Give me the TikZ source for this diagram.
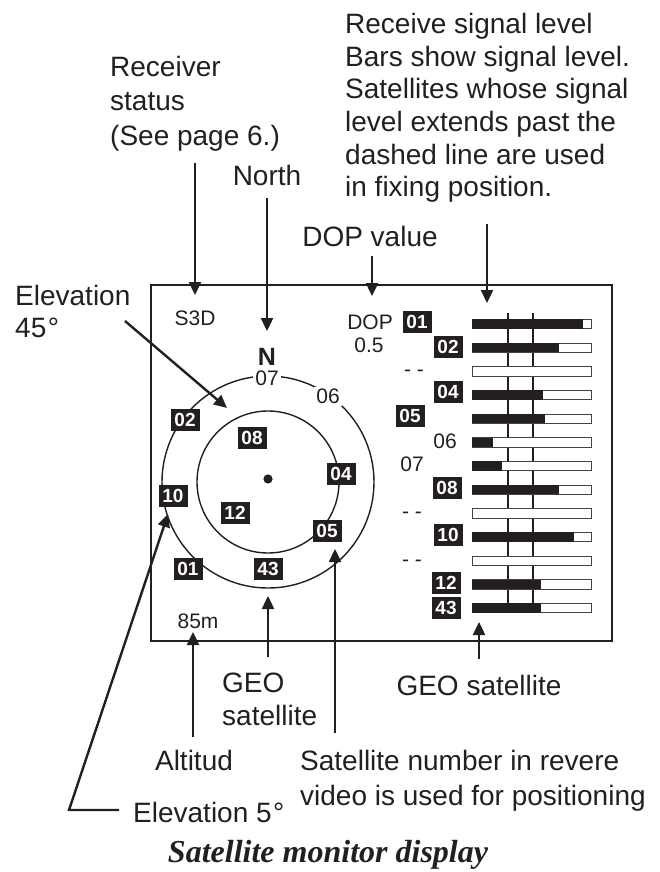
\documentclass[tikz,border=0pt]{standalone}
\usepackage{fontspec}
\setmainfont{Liberation Sans}
\newfontfamily\capfont{Liberation Serif}
\usetikzlibrary{arrows.meta}
\definecolor{ink}{RGB}{35,31,32}
\newcommand{\degr}{\kern1.5pt°}
\begin{document}
\begin{tikzpicture}[x=1pt,y=-1pt,
  lab/.style={font=\fontsize{28}{34}\selectfont, text=ink, inner sep=0pt, anchor=base west},
  labc/.style={lab, anchor=base},
  scr/.style={font=\fontsize{21}{25}\selectfont, text=ink, inner sep=0pt, text height=15pt, text depth=0pt, anchor=center},
  onring/.style={scr, fill=white, inner sep=2pt},
  sat/.style={fill=ink, text=white, font=\fontsize{19}{22}\bfseries\selectfont, minimum width=29pt, minimum height=22pt, inner sep=0pt, text height=13.6pt, text depth=0pt},
  arr/.style={draw=ink, line width=2.4pt, -{Triangle[length=13pt,width=12pt]}},
  barbox/.style={draw=ink!85, line width=0.9pt, fill=white},
  ring/.style={draw=ink, line width=1.4pt},
]
\useasboundingbox (0,0) rectangle (660,872);

% ---------- screen frame ----------
\draw[ink, line width=1.6pt] (151,285) rectangle (612,641);
\draw[ink, line width=2.8pt] (150.2,641) -- (612.8,641);

% ---------- plot rings ----------
\coordinate (ctr) at (268,482);
\draw[ring] (ctr) circle[radius=106];
\draw[ring] (ctr) circle[radius=71];
\fill[ink] (268,479) circle[radius=4.6];

\node[font=\fontsize{25}{28}\bfseries\selectfont, text=ink, inner sep=0pt, text height=18pt, text depth=0pt] (N) at (267,356) {N};
\node[onring] (s07) at (267,378) {07};
\node[onring] (s06) at (328,396) {06};
\node[sat] (c02) at (185,420) {02};
\node[sat] (c08) at (252,438) {08};
\node[sat] (c04) at (341,474) {04};
\node[sat] (c10) at (173,496) {10};
\node[sat] (c12) at (235,513) {12};
\node[sat] (c05) at (327,531) {05};
\node[sat] (c01) at (188,569) {01};
\node[sat] (c43) at (268,569) {43};

\node[scr] (s3d) at (195,318) {S3D};
\node[scr] (alt) at (198,621) {85m};
\node[scr] (dop) at (370,322) {DOP};
\node[scr] (dopv) at (369,345) {0.5};

% ---------- signal bars ----------
\draw[ink, line width=1.3pt] (508,313) -- (508,613);
\draw[ink, line width=1.3pt] (533,313) -- (533,613);
\foreach \i/\f in {0/583,1/559,2/0,3/543,4/545,5/493,6/502,7/559,8/0,9/574,10/0,11/541,12/541}{
  \pgfmathsetmacro\yy{324+23.67*\i}
  \draw[barbox] (472,\yy-4.7) rectangle (591,\yy+4.7);
  \ifnum\f>0 \fill[ink] (472,\yy-4.7) rectangle (\f,\yy+4.7); \fi
}
\node[sat] (b01) at (417,322) {01};
\node[sat] (b02) at (448,347) {02};
\node[scr] (b03) at (414,369) {- -};
\node[sat] (b04) at (448,392) {04};
\node[sat] (b05) at (410,416) {05};
\node[scr] (b06) at (445,441) {06};
\node[scr] (b07) at (412,464) {07};
\node[sat] (b08) at (447,488) {08};
\node[scr] (b09) at (412,511) {- -};
\node[sat] (b10) at (448,535) {10};
\node[scr] (b11) at (412,559) {- -};
\node[sat] (b12) at (446,583) {12};
\node[sat] (b43) at (446,608) {43};

% ---------- callout texts ----------
\node[lab] (rs1) at (110,77) {Receiver};
\node[lab] (rs2) at (110,111) {status};
\node[lab] (rs3) at (110,145) {(See page 6.)};
\node[labc] (north) at (267,185) {North};
\node[lab] (p1) at (345,34) {Receive signal level};
\node[lab] (p2) at (345,66.5) {Bars show signal level.};
\node[lab] (p3) at (345,99) {Satellites whose signal};
\node[lab] (p4) at (345,131.5) {level extends past the};
\node[lab] (p5) at (345,164) {dashed line are used};
\node[lab] (p6) at (345,196.5) {in fixing position.};
\node[labc] (dopl) at (370,246) {DOP value};
\node[lab] (e45a) at (15,305) {Elevation};
\node[lab] (e45b) at (15,337) {45\degr};
\node[lab] (geo1) at (222,692) {GEO};
\node[lab] (geo2) at (222,725) {satellite};
\node[labc] (geor) at (479,695) {GEO satellite};
\node[labc] (altl) at (194,770) {Altitud};
\node[lab] (sn1) at (300,770) {Satellite number in revere};
\node[lab] (sn2) at (300,805) {video is used for positioning};
\node[lab] (e5) at (133,822) {Elevation 5\degr};
\node[font=\fontsize{32}{36}\capfont\bfseries\itshape\selectfont, text=ink, inner sep=0pt, anchor=base] (cap) at (328,862) {Satellite monitor display};

% ---------- arrows ----------
\coordinate (a1s) at (195,163);  \coordinate (a1e) at (195,295);
\coordinate (a2s) at (267,198);  \coordinate (a2e) at (267,331);
\coordinate (a3s) at (372,256);  \coordinate (a3e) at (372,296);
\coordinate (a4s) at (487,224);  \coordinate (a4e) at (487,303);
\coordinate (a5s) at (125,321);  \coordinate (a5e) at (227,408);
\coordinate (a6a) at (119,810);  \coordinate (a6b) at (69,810); \coordinate (a6e) at (168,514);
\coordinate (a7s) at (193,737);  \coordinate (a7e) at (193,632);
\coordinate (a8s) at (268,657);  \coordinate (a8e) at (268,596);
\coordinate (a9s) at (335,733);  \coordinate (a9e) at (335,549);
\coordinate (a10s) at (479,659); \coordinate (a10e) at (479,622);

\draw[arr] (a1s) -- (a1e);
\draw[arr] (a2s) -- (a2e);
\draw[arr] (a3s) -- (a3e);
\draw[arr] (a4s) -- (a4e);
\draw[arr] (a5s) -- (a5e);
\draw[arr] (a6a) -- (a6b) -- (a6e);
\draw[arr] (a7s) -- (a7e);
\draw[arr] (a8s) -- (a8e);
\draw[arr] (a9s) -- (a9e);
\draw[arr] (a10s) -- (a10e);
\end{tikzpicture}
\end{document}
